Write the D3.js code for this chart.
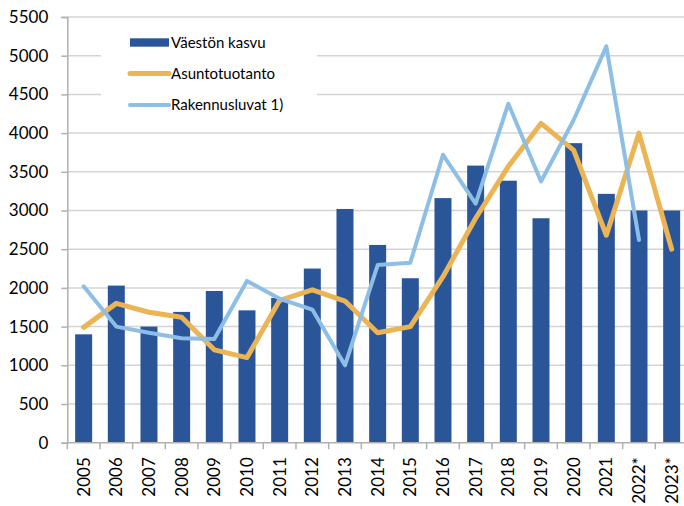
<!DOCTYPE html>
<html>
<head>
<meta charset="utf-8">
<script src="https://cdn.jsdelivr.net/npm/d3@7"></script>
<style>
  body { margin: 0; background: #fff; }
  text { font-family: Lato, "Liberation Sans", sans-serif; fill: #000; }
</style>
</head>
<body>
<div id="chart"></div>
<script>
const years = ["2005", "2006", "2007", "2008", "2009", "2010", "2011", "2012", "2013", "2014",
               "2015", "2016", "2017", "2018", "2019", "2020", "2021", "2022*", "2023*"];
const vaestonKasvu = [1400, 2030, 1500, 1690, 1960, 1710, 1870, 2250, 3020, 2555,
                      2125, 3160, 3580, 3385, 2900, 3870, 3215, 3000, 3000];
const asuntotuotanto = [1490, 1800, 1685, 1620, 1200, 1100, 1840, 1975, 1830, 1420,
                        1500, 2145, 2900, 3570, 4125, 3780, 2680, 4000, 2500];
const rakennusluvat = [2020, 1500, 1420, 1350, 1340, 2090, 1860, 1720, 1000, 2295,
                       2325, 3720, 3090, 4380, 3375, 4170, 5120, 2620, null];
const yTicks = [0, 500, 1000, 1500, 2000, 2500, 3000, 3500, 4000, 4500, 5000, 5500];
const legendItems = ["Väestön kasvu", "Asuntotuotanto", "Rakennusluvat 1)"];

const W = 684, H = 506;
const plot = { left: 67.3, right: 688, top: 17, bottom: 442.7 };

const svg = d3.select("#chart").append("svg")
  .attr("width", W)
  .attr("height", H);

const x = d3.scaleBand().domain(years).range([plot.left, plot.right]).padding(0);
const y = d3.scaleLinear().domain([0, 5500]).range([plot.bottom, plot.top]);
const barW = x.bandwidth() * 0.52;

// gridlines
svg.append("g")
  .selectAll("line")
  .data(yTicks.filter(d => d > 0))
  .enter().append("line")
  .attr("x1", plot.left)
  .attr("x2", W)
  .attr("y1", d => y(d))
  .attr("y2", d => y(d))
  .style("stroke", "#d4d4d4")
  .style("stroke-width", 1.5);

// y axis
const yAxis = svg.append("g")
  .attr("transform", `translate(${plot.left},0)`)
  .call(d3.axisLeft(y).tickValues(yTicks).tickSize(6).tickPadding(13).tickFormat(d3.format("d")));
yAxis.select(".domain").style("stroke", "#b0b0b0").style("stroke-width", 1.5);
yAxis.selectAll(".tick line").style("stroke", "#b0b0b0").style("stroke-width", 1.5);
yAxis.selectAll("text").style("font-size", "17px").attr("fill", "#000");

// bars
svg.append("g")
  .selectAll("rect")
  .data(years)
  .enter().append("rect")
  .attr("x", d => x(d) + (x.bandwidth() - barW) / 2)
  .attr("width", barW)
  .attr("y", (d, i) => y(vaestonKasvu[i]))
  .attr("height", (d, i) => plot.bottom - y(vaestonKasvu[i]))
  .style("fill", "#2A5599");

// x axis
const xAxis = svg.append("g")
  .attr("transform", `translate(0,${plot.bottom})`)
  .call(d3.axisBottom(x).tickSize(0).tickPadding(0));
xAxis.select(".domain").remove();
xAxis.append("line")
  .attr("x1", plot.left).attr("x2", W)
  .style("stroke", "#b0b0b0").style("stroke-width", 1.5);
xAxis.selectAll(".boundary")
  .data(years)
  .enter().append("line")
  .attr("class", "boundary")
  .attr("x1", d => x(d)).attr("x2", d => x(d))
  .attr("y1", 0).attr("y2", 6.5)
  .style("stroke", "#b0b0b0").style("stroke-width", 1.5);
xAxis.selectAll(".tick text")
  .attr("transform", "rotate(-90)")
  .attr("x", -14.5)
  .attr("y", 0)
  .attr("dy", "0.35em")
  .attr("text-anchor", "end")
  .attr("fill", "#000")
  .style("font-size", "17px");

// lines
const cx = d => x(d) + x.bandwidth() / 2;
const lineGen = values => d3.line()
  .defined((d, i) => values[i] != null)
  .x(d => cx(d))
  .y((d, i) => y(values[i]))(years);

svg.append("path")
  .attr("d", lineGen(asuntotuotanto))
  .style("fill", "none")
  .style("stroke", "#EBB455")
  .style("stroke-width", 5)
  .style("stroke-linejoin", "round")
  .style("stroke-linecap", "round");

svg.append("path")
  .attr("d", lineGen(rakennusluvat))
  .style("fill", "none")
  .style("stroke", "#8DBEE6")
  .style("stroke-width", 4)
  .style("stroke-linejoin", "round")
  .style("stroke-linecap", "round");

// legend
const legend = svg.append("g");
legend.append("rect")
  .attr("x", 101).attr("y", 22)
  .attr("width", 216).attr("height", 100)
  .style("fill", "#fff");
const legendY = [42.5, 73.5, 105];
legend.append("rect")
  .attr("x", 130).attr("y", legendY[0] - 4.2)
  .attr("width", 39).attr("height", 8.4)
  .style("fill", "#2A5599");
legend.append("line")
  .attr("x1", 130).attr("x2", 169)
  .attr("y1", legendY[1]).attr("y2", legendY[1])
  .style("stroke", "#EBB455").style("stroke-width", 5).style("stroke-linecap", "round");
legend.append("line")
  .attr("x1", 130).attr("x2", 169)
  .attr("y1", legendY[2]).attr("y2", legendY[2])
  .style("stroke", "#8DBEE6").style("stroke-width", 4).style("stroke-linecap", "round");
legend.selectAll(".legend-text")
  .data(legendItems)
  .enter().append("text")
  .attr("class", "legend-text")
  .attr("x", 171)
  .attr("y", (d, i) => legendY[i])
  .attr("dy", "0.35em")
  .style("font-size", "15px")
  .text(d => d);
</script>
</body>
</html>
